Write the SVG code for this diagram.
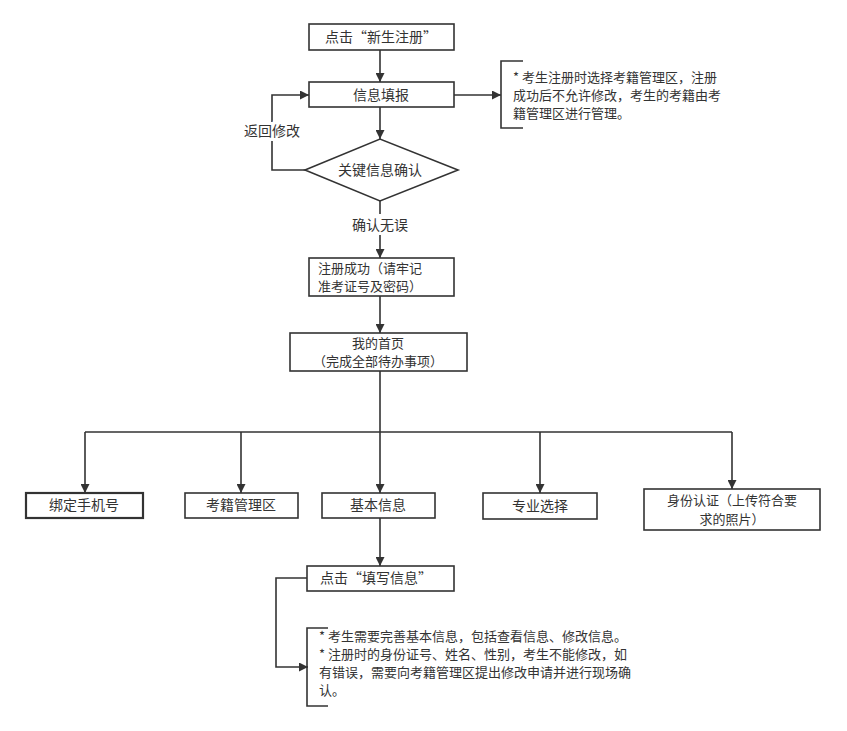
<svg xmlns="http://www.w3.org/2000/svg" width="847" height="731" viewBox="0 0 847 731">
<defs>
<marker id="ah" viewBox="0 0 10 10" refX="10" refY="5" markerWidth="9" markerHeight="9" markerUnits="userSpaceOnUse" orient="auto"><path d="M0,0 L10,5 L0,10 z" fill="#333"/></marker>
<style>
rect,polygon{fill:#fff;stroke:#333;stroke-width:1.6}
text{font-family:"Noto Sans CJK SC","Liberation Sans",sans-serif;font-size:14px;fill:#333}
.s{font-size:13px}
.c{text-anchor:middle}
.e{fill:none;stroke:#333;stroke-width:1.6}
.a{marker-end:url(#ah)}
</style>
</defs>
<rect width="847" height="731" fill="#fff" style="stroke:none"/>
<g id="connectors">
<path class="e a" d="M380,50 V82"/>
<path class="e a" d="M380,107 V139"/>
<path class="e a" d="M305,170 H272 V95 H309"/>
<path class="e a" d="M454,95 H501"/>
<path class="e" d="M523,61 H501 V128 H523"/>
<path class="e" d="M380,201 V214"/>
<path class="e a" d="M380,235 V258"/>
<path class="e a" d="M380,296 V333"/>
<path class="e" d="M380,371 V432 M85,432 H732"/>
<path class="e a" d="M85,432 V493"/>
<path class="e a" d="M241,432 V493"/>
<path class="e a" d="M380,432 V493"/>
<path class="e a" d="M540,432 V493"/>
<path class="e a" d="M732,432 V489"/>
<path class="e a" d="M380,518 V566"/>
<path class="e a" d="M307,578 H276 V667 H308"/>
<path class="e" d="M328,628 H307 V706 H328"/>
<text x="272" y="136" class="c" style="paint-order:stroke;stroke:#fff;stroke-width:6px">返回修改</text>
<text x="380" y="230" class="c">确认无误</text>
</g>
<g id="n1"><rect x="309" y="24" width="145" height="26"/><text x="381" y="42" class="c">点击“新生注册”</text></g>
<g id="n2"><rect x="309" y="82" width="145" height="25"/><text x="381" y="100" class="c">信息填报</text></g>
<g id="note1" class="s"><text x="513" y="82" class="s">*  考生注册时选择考籍管理区，注册</text><text x="513" y="100" class="s">成功后不允许修改，考生的考籍由考</text><text x="513" y="118" class="s">籍管理区进行管理。</text></g>
<g id="d1"><polygon points="305,170 380,139 458,170 380,201"/><text x="380" y="175" class="c">关键信息确认</text></g>
<g id="n3"><rect x="309" y="258" width="145" height="38"/><text x="318" y="273" class="s">注册成功（请牢记</text><text x="318" y="291" class="s">准考证号及密码）</text></g>
<g id="n4"><rect x="290" y="333" width="177" height="38"/><text x="378" y="348" class="c s">我的首页</text><text x="378" y="366" class="c s">（完成全部待办事项）</text></g>
<g id="b1"><rect x="26" y="493" width="117" height="25" style="stroke-width:2.2"/><text x="84" y="510" class="c">绑定手机号</text></g>
<g id="b2"><rect x="185" y="493" width="113" height="25"/><text x="241" y="510" class="c">考籍管理区</text></g>
<g id="b3"><rect x="322" y="493" width="113" height="25"/><text x="378" y="510" class="c">基本信息</text></g>
<g id="b4"><rect x="483" y="493" width="114" height="26"/><text x="540" y="511" class="c">专业选择</text></g>
<g id="b5"><rect x="644" y="489" width="176" height="41"/><text x="732" y="505" class="c s">身份认证（上传符合要</text><text x="732" y="524" class="c s">求的照片）</text></g>
<g id="n5"><rect x="307" y="566" width="147" height="25"/><text x="320" y="583">点击“填写信息”</text></g>
<g id="note2"><text x="319" y="641" class="s">*  考生需要完善基本信息，包括查看信息、修改信息。</text><text x="319" y="659" class="s">*  注册时的身份证号、姓名、性别，考生不能修改，如</text><text x="319" y="677" class="s">有错误，需要向考籍管理区提出修改申请并进行现场确</text><text x="319" y="695" class="s">认。</text></g>
</svg>
